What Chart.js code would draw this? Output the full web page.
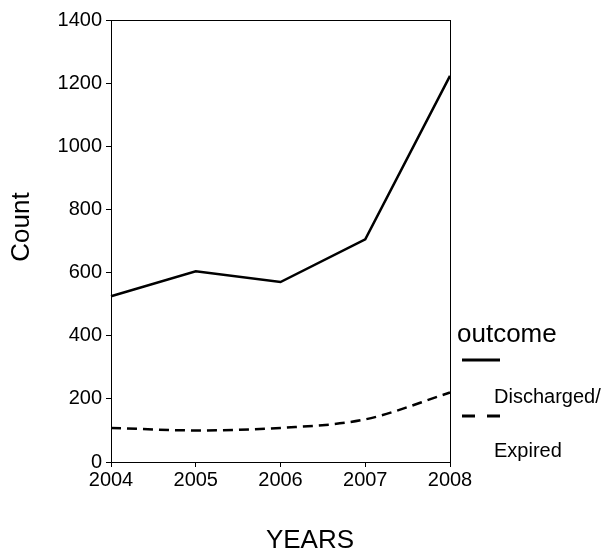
<!DOCTYPE html>
<html>
<head>
<meta charset="utf-8">
<script src="https://cdn.jsdelivr.net/npm/chart.js@4"></script>
<style>
  body { margin: 0; background: #fff; }
  canvas { display: block; }
</style>
</head>
<body>
<canvas id="myChart" width="606" height="552"></canvas>
<script>
// values
const years = ['2004', '2005', '2006', '2007', '2008'];
const discharged = [525, 604, 570, 705, 1223];
const expired = [108, 100, 108, 135, 220];
const legendLabels = ['Discharged/', 'Expired'];

const FONT = "'Liberation Sans', Arial, sans-serif";

// frame, axis titles and the legend box on the right
const extras = {
    id: 'extras',
    afterDraw(chart) {
        const ctx = chart.ctx;
        const a = chart.chartArea;
        ctx.save();
        ctx.strokeStyle = '#000';
        ctx.lineWidth = 1;
        ctx.strokeRect(a.left + 0.5, a.top + 0.5, a.right - a.left, a.bottom - a.top);

        ctx.fillStyle = '#000';
        ctx.font = '26px ' + FONT;
        ctx.textAlign = 'center';
        ctx.textBaseline = 'middle';
        ctx.fillText('YEARS', 310, 541);
        ctx.save();
        ctx.translate(22, 227);
        ctx.rotate(-Math.PI / 2);
        ctx.fillText('Count', 0, 0);
        ctx.restore();

        // legend
        ctx.textAlign = 'left';
        ctx.fillText('outcome', 457, 335);
        ctx.font = '20px ' + FONT;
        chart.data.datasets.forEach((ds, i) => {
            const y = i === 0 ? 360 : 416;
            ctx.beginPath();
            ctx.lineWidth = 3;
            ctx.setLineDash(i === 0 ? [] : [13, 12]);
            ctx.moveTo(462, y);
            ctx.lineTo(500, y);
            ctx.stroke();
            ctx.setLineDash([]);
            ctx.fillText(legendLabels[i], 494, i === 0 ? 397 : 451);
        });
        ctx.restore();
    }
};

const ctx = document.getElementById('myChart').getContext('2d');
const myChart = new Chart(ctx, {
    type: 'line',
    data: {
        labels: years,
        datasets: [{
            label: 'Discharged/',
            data: discharged,
            borderColor: '#000',
            borderWidth: 2.5,
            pointRadius: 0,
            tension: 0
        }, {
            label: 'Expired',
            data: expired,
            borderColor: '#000',
            borderWidth: 2.5,
            borderDash: [10, 6],
            pointRadius: 0,
            cubicInterpolationMode: 'monotone'
        }]
    },
    options: {
        responsive: false,
        animation: false,
        layout: { padding: { top: 20, right: 156, left: 0, bottom: 0 } },
        plugins: { legend: { display: false }, tooltip: { enabled: false } },
        scales: {
            x: {
                offset: false,
                afterFit(scale) { scale.height = 90; },
                grid: { display: true, drawOnChartArea: false, drawTicks: true, tickLength: 5, color: '#000' },
                border: { display: true, color: '#000', width: 1 },
                ticks: { color: '#000', font: { family: FONT, size: 20 }, padding: 1, maxRotation: 0 }
            },
            y: {
                min: 0,
                max: 1400,
                afterFit(scale) { scale.width = 111; },
                grid: { display: true, drawOnChartArea: false, drawTicks: true, tickLength: 5, color: '#000' },
                border: { display: true, color: '#000', width: 1 },
                ticks: {
                    stepSize: 200,
                    color: '#000',
                    font: { family: FONT, size: 20 },
                    padding: 4,
                    callback: v => String(v)
                }
            }
        }
    },
    plugins: [extras]
});
</script>
</body>
</html>
